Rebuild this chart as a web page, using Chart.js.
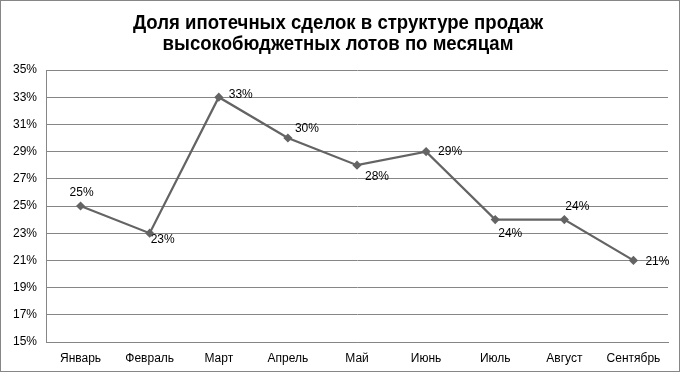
<!DOCTYPE html>
<html>
<head>
<meta charset="utf-8">
<script src="https://cdn.jsdelivr.net/npm/chart.js@4/dist/chart.umd.min.js"></script>
<style>
html,body{margin:0;padding:0;background:#fff;}
#wrap{width:680px;height:372px;position:relative;}
</style>
</head>
<body>
<div id="wrap"><canvas id="c" width="680" height="372"></canvas></div>
<script>
const categories = ['Январь','Февраль','Март','Апрель','Май','Июнь','Июль','Август','Сентябрь'];
const shares = [25, 23, 33, 30, 28, 29, 24, 24, 21];
const titleLines = ['Доля ипотечных сделок в структуре продаж', 'высокобюджетных лотов по месяцам'];
const yMin = 15, yMax = 35, yStep = 2;

// label placement (style): [dx, dy] from point centre
const labelOffsets = [[1,-13],[13,6],[22,-3],[19,-9],[20,11],[24,0],[15,14],[13,-13],[24,1]];
// title placement (style)
const titleStyle = { size: 21, scaleX: 0.885, centerX: 338, baselines: [29, 50] };

const frame = {
  id: 'frame',
  beforeDraw(chart) {
    const ctx = chart.ctx;
    ctx.save();
    ctx.fillStyle = '#fff';
    ctx.fillRect(0, 0, chart.width, chart.height);
    ctx.strokeStyle = '#868686';
    ctx.lineWidth = 1;
    ctx.strokeRect(0.5, 0.5, chart.width - 1, chart.height - 1);
    ctx.restore();
  },
  afterDraw(chart) {
    const ctx = chart.ctx;
    ctx.save();
    ctx.font = 'bold ' + titleStyle.size + 'px "Liberation Sans", Arial, sans-serif';
    ctx.fillStyle = '#000';
    ctx.textAlign = 'center';
    ctx.textBaseline = 'alphabetic';
    titleLines.forEach((line, i) => {
      ctx.save();
      ctx.translate(titleStyle.centerX, titleStyle.baselines[i]);
      ctx.scale(titleStyle.scaleX, 1);
      ctx.fillText(line, 0, 0);
      ctx.restore();
    });
    ctx.restore();
  }
};

const pointLabels = {
  id: 'pointLabels',
  afterDatasetsDraw(chart) {
    const ctx = chart.ctx;
    const meta = chart.getDatasetMeta(0);
    ctx.save();
    ctx.font = '12px "Liberation Sans", Arial, sans-serif';
    ctx.fillStyle = '#000';
    ctx.textAlign = 'center';
    ctx.textBaseline = 'middle';
    meta.data.forEach((pt, i) => {
      const off = labelOffsets[i];
      ctx.fillText(shares[i] + '%', pt.x + off[0], pt.y + off[1]);
    });
    ctx.restore();
  }
};

new Chart(document.getElementById('c'), {
  type: 'line',
  data: {
    labels: categories,
    datasets: [{
      data: shares,
      borderColor: '#646464',
      backgroundColor: '#646464',
      borderWidth: 2.25,
      pointStyle: 'rectRot',
      pointRadius: 3,
      pointHoverRadius: 3,
      tension: 0
    }]
  },
  options: {
    responsive: false,
    animation: false,
    layout: { padding: { left: 0, right: 12, top: 70, bottom: 0 } },
    plugins: {
      legend: { display: false },
      tooltip: { enabled: false },
      title: { display: false }
    },
    scales: {
      x: {
        offset: true,
        grid: { display: false, drawTicks: false },
        border: { display: true, color: '#868686', width: 1 },
        ticks: { color: '#000', font: { family: '"Liberation Sans", Arial, sans-serif', size: 12 }, padding: 9, maxRotation: 0, autoSkip: false },
        afterFit(s) { s.height = 30; }
      },
      y: {
        min: yMin, max: yMax,
        grid: { color: '#868686', drawTicks: false },
        border: { display: true, color: '#868686', width: 1 },
        ticks: {
          stepSize: yStep,
          color: '#000',
          font: { family: '"Liberation Sans", Arial, sans-serif', size: 12 },
          padding: 9,
          callback: v => v + '%'
        },
        afterFit(s) { s.width = 46; }
      }
    }
  },
  plugins: [frame, pointLabels]
});
</script>
</body>
</html>
